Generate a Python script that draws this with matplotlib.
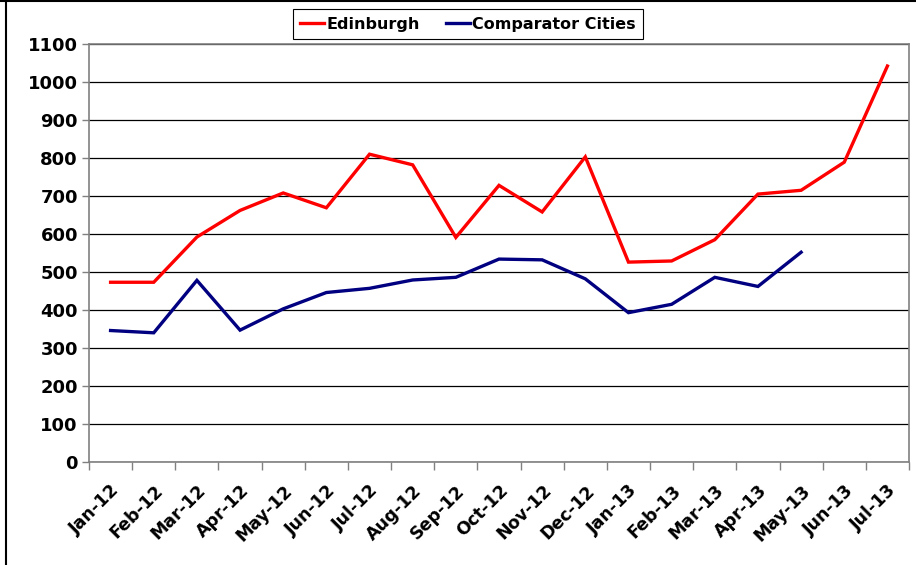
import numpy as np
import matplotlib.pyplot as plt
from matplotlib.lines import Line2D

months = ['Jan-12', 'Feb-12', 'Mar-12', 'Apr-12', 'May-12', 'Jun-12', 'Jul-12',
          'Aug-12', 'Sep-12', 'Oct-12', 'Nov-12', 'Dec-12', 'Jan-13', 'Feb-13',
          'Mar-13', 'Apr-13', 'May-13', 'Jun-13', 'Jul-13']
edinburgh = [473, 473, 592, 662, 708, 669, 810, 782, 591, 728, 658, 803,
             526, 529, 585, 705, 715, 789, 1042]
comparator = [346, 340, 478, 347, 403, 446, 457, 479, 486, 534, 532, 482,
              393, 415, 486, 462, 552, np.nan, np.nan]

plt.rcParams['font.family'] = 'DejaVu Sans'
plt.rcParams['font.weight'] = 'bold'

fig = plt.figure(figsize=(9.16, 5.65), dpi=100)
ax = fig.add_axes([89/916, 1-462/565, (909-89)/916, (462-44)/565])

x = np.arange(len(months))
ax.plot(x, edinburgh, color='#ff0000', lw=2.4, label='Edinburgh', solid_joinstyle='miter')
ax.plot(x, comparator, color='#000080', lw=2.4, label='Comparator Cities', solid_joinstyle='miter')

ax.set_xlim(-0.5, len(months) - 0.5)
ax.set_ylim(0, 1100)
ax.set_yticks(np.arange(0, 1101, 100))
ax.tick_params(axis='y', labelsize=13, length=5, color='#808080', width=1, pad=3)
for t in ax.get_yticklabels():
    t.set_fontweight('bold')

ax.set_xticks(x)
ax.set_xticklabels(months, rotation=45, ha='right', rotation_mode='anchor',
                   fontsize=12.5, fontweight='bold')
ax.tick_params(axis='x', which='major', length=0, pad=14)
ax.set_xticks(np.arange(-0.5, len(months), 1), minor=True)
ax.tick_params(axis='x', which='minor', length=6, color='#808080', width=1)

ax.grid(axis='y', color='black', lw=0.9)
ax.set_axisbelow(True)
for s in ax.spines.values():
    s.set_color('#808080')
    s.set_linewidth(1.2)

leg = fig.legend(loc='center', bbox_to_anchor=(468/916, 1-24/565), ncol=2,
                 prop={'weight': 'bold', 'size': 11.5},
                 handlelength=1.5, handletextpad=0.15, columnspacing=1.6,
                 fancybox=False, edgecolor='black', framealpha=1,
                 borderpad=0.45, borderaxespad=0)
leg.get_frame().set_linewidth(0.8)

# outer frame visible on the left and top edges
fig.add_artist(Line2D([6/916, 6/916], [0, 1], transform=fig.transFigure, color='black', lw=1.5))
fig.add_artist(Line2D([0, 1], [1 - 1/565, 1 - 1/565], transform=fig.transFigure, color='black', lw=1.5))

fig.savefig('out.png', dpi=100)
